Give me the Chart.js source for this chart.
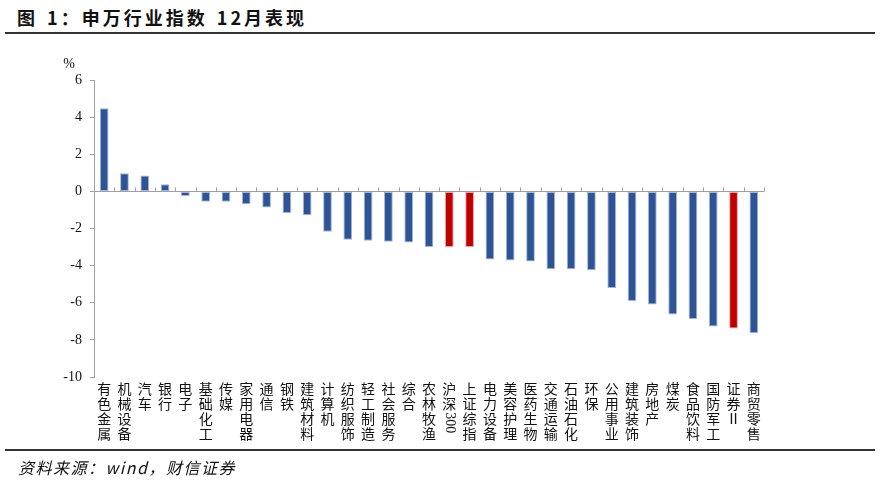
<!DOCTYPE html>
<html>
<head>
<meta charset="utf-8">
<script src="https://cdn.jsdelivr.net/npm/chart.js@4.4.1/dist/chart.umd.min.js"></script>
<style>
  body { margin: 0; background: #fff; }
  #wrap { position: relative; width: 880px; height: 480px; }
  #title { position: absolute; left: 17px; top: 4px; font: bold 18px "Noto Sans CJK SC", sans-serif; color: #111; letter-spacing: 3px; word-spacing: 2px; }
  .rule { position: absolute; left: 5px; width: 870px; height: 2px; background: #333; }
  #source { position: absolute; left: 18px; top: 455px; font: italic 16px "Noto Sans CJK SC", sans-serif; color: #111; letter-spacing: 1.5px; }
  canvas { position: absolute; left: 0; top: 0; }
</style>
</head>
<body>
<div id="wrap">
  <div id="title">图 1：申万行业指数 12月表现</div>
  <div class="rule" style="top:32px"></div>
  <canvas id="barChart" width="880" height="480"></canvas>
  <div class="rule" style="top:449px"></div>
  <div id="source">资料来源：wind，财信证券</div>
</div>
<script>
// 申万行业 12月涨跌幅 (%)
const industries = ['有色金属', '机械设备', '汽车', '银行', '电子', '基础化工', '传媒', '家用电器', '通信', '钢铁',
    '建筑材料', '计算机', '纺织服饰', '轻工制造', '社会服务', '综合', '农林牧渔', '沪深300', '上证综指', '电力设备',
    '美容护理', '医药生物', '交通运输', '石油石化', '环保', '公用事业', '建筑装饰', '房地产', '煤炭', '食品饮料',
    '国防军工', '证券Ⅱ', '商贸零售']
const changes = [4.48, 0.97, 0.85, 0.38, -0.25, -0.56, -0.56, -0.69, -0.87, -1.16,
    -1.28, -2.17, -2.6, -2.66, -2.71, -2.76, -3.0, -3.0, -3.0, -3.67,
    -3.72, -3.78, -4.19, -4.19, -4.25, -5.2, -5.9, -6.09, -6.63, -6.87,
    -7.28, -7.39, -7.64]
const highlighted = ['沪深300', '上证综指', '证券Ⅱ']
const yTicks = [-10, -8, -6, -4, -2, 0, 2, 4, 6]

const blue = 'rgb(46, 84, 150)'
const red = 'rgb(192, 0, 0)'
const axisGrey = '#a0a0a0'

// ticks on the zero line, "%" unit and the stacked vertical labels
const decorations = {
    id: 'decorations',
    afterDraw(chart) {
        const ctx = chart.ctx
        const x = chart.scales.x
        const y = chart.scales.y
        const zero = y.getPixelForValue(0)
        const half = (x.getPixelForValue(1) - x.getPixelForValue(0)) / 2
        ctx.save()
        ctx.strokeStyle = axisGrey
        ctx.lineWidth = 1
        for (let i = 0; i <= industries.length; i++) {
            const px = Math.round(x.getPixelForValue(i) - half) + 0.5
            ctx.beginPath()
            ctx.moveTo(px, zero)
            ctx.lineTo(px, zero - 4)
            ctx.stroke()
        }

        ctx.fillStyle = '#111'
        ctx.font = '14px "Liberation Serif", serif'
        ctx.textAlign = 'center'
        ctx.textBaseline = 'alphabetic'
        ctx.fillText('%', y.right - 25, y.top - 12)

        ctx.font = '14px "Noto Sans CJK SC", sans-serif'
        ctx.textBaseline = 'middle'
        const step = 14.8
        industries.forEach((name, i) => {
            const cx = x.getPixelForValue(i)
            let cy = chart.chartArea.bottom + 12
            const parts = name.match(/[0-9]+|[^0-9]/g)
            parts.forEach(p => {
                if (/^[0-9]+$/.test(p)) {
                    ctx.save()
                    ctx.font = '14px "Liberation Serif", serif'
                    const w = ctx.measureText(p).width
                    ctx.translate(cx, cy - step / 2 + w / 2 + 1)
                    ctx.rotate(Math.PI / 2)
                    ctx.fillText(p, 0, 0)
                    ctx.restore()
                    cy += w + 2
                } else {
                    ctx.fillText(p, cx, cy)
                    cy += step
                }
            })
        })
        ctx.restore()
    }
}

const barChart = new Chart(document.getElementById('barChart'), {
    type: 'bar',
    data: {
        labels: industries,
        datasets: [{
            data: changes,
            backgroundColor: industries.map(d => highlighted.includes(d) ? red : blue),
            borderColor: industries.map(d => highlighted.includes(d) ? 'rgba(230,140,140,0.8)' : 'rgba(150,175,215,0.9)'),
            borderWidth: 1,
            borderSkipped: false,
            barPercentage: 0.43,
            categoryPercentage: 1
        }]
    },
    options: {
        responsive: false,
        animation: false,
        layout: { padding: { left: 54, right: 116, top: 80, bottom: 95 } },
        plugins: { legend: { display: false }, tooltip: { enabled: false } },
        scales: {
            x: {
                grid: { display: false },
                border: { display: false },
                ticks: { display: false }
            },
            y: {
                min: -10,
                max: 6,
                afterFit: scale => { scale.width = 40 },
                afterBuildTicks: scale => { scale.ticks = yTicks.map(v => ({ value: v })) },
                border: { color: axisGrey, width: 1 },
                grid: {
                    color: c => c.tick && c.tick.value === 0 ? axisGrey : 'rgba(0,0,0,0)',
                    tickColor: axisGrey,
                    tickLength: 4
                },
                ticks: {
                    padding: 8,
                    color: '#111',
                    font: { family: 'Liberation Serif', size: 14 }
                }
            }
        }
    },
    plugins: [decorations]
});
</script>
</body>
</html>
